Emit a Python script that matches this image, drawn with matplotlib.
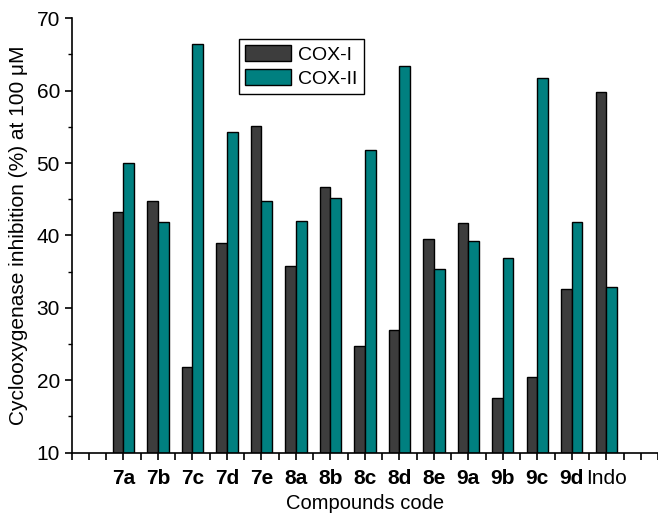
import numpy as np
import matplotlib
matplotlib.use('Agg')
import matplotlib.pyplot as plt
from matplotlib.ticker import MultipleLocator

plt.rcParams['font.family'] = ['Liberation Sans', 'DejaVu Sans']

# data
compounds = ['7a', '7b', '7c', '7d', '7e', '8a', '8b', '8c', '8d', '8e',
             '9a', '9b', '9c', '9d', 'Indo']
cox1 = [43.3, 44.7, 21.8, 38.9, 55.1, 35.8, 46.7, 24.8, 26.9, 39.5,
        41.7, 17.6, 20.4, 32.6, 59.8]
cox2 = [50.0, 41.9, 66.5, 54.3, 44.7, 42.0, 45.2, 51.8, 63.4, 35.4,
        39.2, 36.9, 61.8, 41.9, 32.9]

x = np.arange(1, len(compounds) + 1)
w = 0.31

fig = plt.figure(figsize=(6.58, 5.14), dpi=100)
ax = fig.add_axes([0.109, 0.1193, 0.891, 0.8451])

ax.bar(x - w / 2, np.array(cox1) - 10, w, bottom=10, color='#3d3d3d',
       edgecolor='black', linewidth=1, label='COX-I')
ax.bar(x + w / 2, np.array(cox2) - 10, w, bottom=10, color='#008080',
       edgecolor='black', linewidth=1, label='COX-II')

ax.set_xlim(-0.5, 16.5)
ax.set_ylim(10, 70)

ax.spines['top'].set_visible(False)
ax.spines['right'].set_visible(False)
ax.spines['left'].set_linewidth(1.2)
ax.spines['bottom'].set_linewidth(1.2)

# ticks: major at every position, minor at halves
ax.set_xticks(np.arange(0, 17))
ax.set_xticklabels([''] + compounds + [''])
ax.xaxis.set_minor_locator(MultipleLocator(0.5))
for lbl in ax.get_xticklabels():
    if lbl.get_text() not in ('Indo', ''):
        lbl.set_fontweight('bold')
ax.yaxis.set_major_locator(MultipleLocator(10))
ax.yaxis.set_minor_locator(MultipleLocator(5))
ax.tick_params(which='major', direction='out', length=5, width=1.2, labelsize=15)
ax.tick_params(axis='x', which='major', pad=7)
ax.tick_params(axis='x', which='minor', direction='out', length=5, width=1.2)
ax.tick_params(axis='y', which='minor', direction='out', length=3, width=1.0)

ax.set_xlabel('Compounds code', fontsize=14.5, labelpad=4)
ax.set_ylabel('Cyclooxygenase inhibition (%) at 100 μM', fontsize=15, labelpad=6)

leg = ax.legend(loc='upper left', bbox_to_anchor=(0.285, 0.952), fontsize=14,
                fancybox=False, edgecolor='black', framealpha=1,
                handlelength=2.4, handleheight=0.87, borderpad=0.3,
                labelspacing=0.3, handletextpad=0.36, borderaxespad=0)
leg.get_frame().set_linewidth(1.0)

fig.savefig('out.png', dpi=100)
